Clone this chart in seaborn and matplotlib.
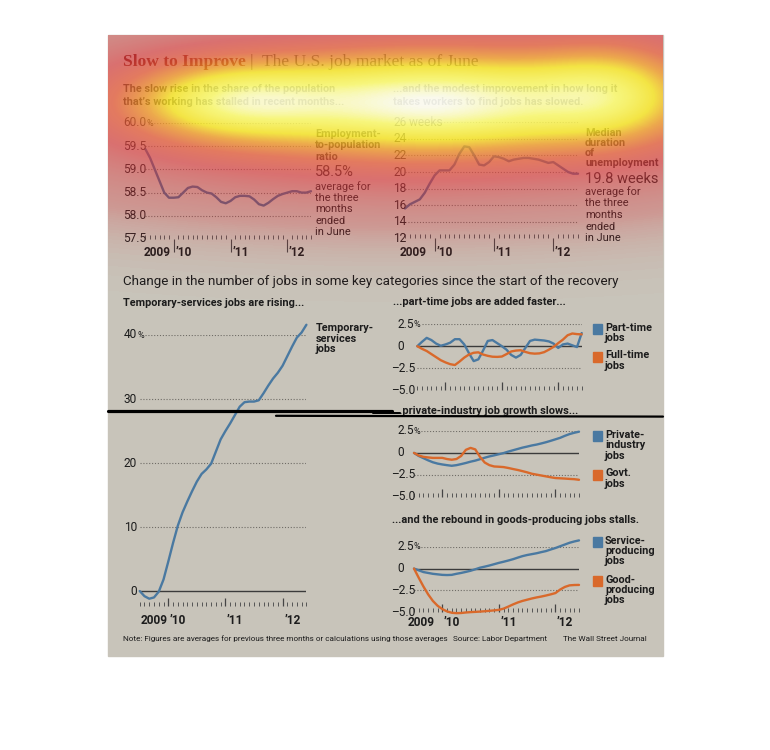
import numpy as np
import pandas as pd
import matplotlib
matplotlib.use('Agg')
import matplotlib.pyplot as plt
import matplotlib.transforms as mtransforms
from matplotlib.colors import LinearSegmentedColormap
from matplotlib.lines import Line2D
from matplotlib.patches import Rectangle
from matplotlib import font_manager
import seaborn as sns

# monthly values, three-month averages, July 2009 - June 2012
emp_pop_ratio = [59.44, 59.25, 59.0, 58.75, 58.5, 58.39, 58.39, 58.40, 58.5, 58.6,
                 58.63, 58.62, 58.55, 58.5, 58.48, 58.4, 58.3, 58.27, 58.32, 58.4,
                 58.43, 58.43, 58.42, 58.35, 58.25, 58.22, 58.28, 58.36, 58.43, 58.47,
                 58.5, 58.53, 58.53, 58.5, 58.5, 58.53]
median_weeks = [15.6, 16.1, 16.4, 16.7, 17.5, 18.6, 19.6, 20.2, 20.2, 20.2,
                20.9, 22.2, 23.1, 23.0, 22.0, 20.9, 20.8, 21.2, 21.9, 21.8,
                21.6, 21.3, 21.5, 21.6, 21.7, 21.7, 21.6, 21.5, 21.3, 21.1,
                21.2, 20.8, 20.4, 20.0, 19.8, 19.8]
temp_services = [0.0, -0.8, -1.2, -1.0, -0.1, 1.8, 4.6, 7.5, 10.2, 12.3,
                 14.0, 15.6, 17.1, 18.3, 19.0, 19.9, 21.8, 23.7, 25.0, 26.2,
                 27.5, 28.8, 29.5, 29.6, 29.6, 29.8, 30.9, 32.1, 33.2, 34.1,
                 35.2, 36.7, 38.2, 39.6, 40.4, 41.6]
part_time = [0.0, 0.5, 0.95, 0.7, 0.3, 0.05, 0.2, 0.4, 0.8, 0.8,
             0.2, -0.8, -1.7, -1.5, -0.5, 0.6, 0.7, 0.35, 0.0, -0.4,
             -1.0, -1.3, -1.0, -0.2, 0.6, 0.75, 0.7, 0.65, 0.55, 0.3,
             -0.2, 0.2, 0.3, 0.1, -0.1, 1.5]
full_time = [0.0, -0.3, -0.55, -0.9, -1.25, -1.6, -1.85, -2.05, -2.15, -1.75,
             -1.3, -0.95, -0.75, -0.7, -0.95, -1.1, -1.2, -1.22, -1.18, -0.9,
             -0.6, -0.5, -0.46, -0.65, -0.8, -0.85, -0.82, -0.68, -0.4, -0.08,
             0.35, 0.75, 1.25, 1.45, 1.38, 1.35]
private_jobs = [0.0, -0.35, -0.6, -0.85, -1.07, -1.22, -1.32, -1.4, -1.47, -1.4,
                -1.28, -1.15, -1.0, -0.88, -0.72, -0.55, -0.4, -0.28, -0.15, -0.02,
                0.15, 0.3, 0.45, 0.6, 0.72, 0.85, 0.95, 1.08, 1.22, 1.38,
                1.55, 1.72, 1.95, 2.15, 2.3, 2.42]
govt_jobs = [0.0, -0.3, -0.45, -0.52, -0.57, -0.57, -0.57, -0.7, -0.78, -0.7,
             -0.35, 0.35, 0.57, 0.4, -0.45, -1.1, -1.4, -1.55, -1.58, -1.62,
             -1.72, -1.84, -1.95, -2.08, -2.22, -2.38, -2.48, -2.58, -2.68, -2.78,
             -2.87, -2.9, -2.93, -2.97, -3.0, -3.07]
service_jobs = [0.0, -0.2, -0.4, -0.5, -0.6, -0.66, -0.72, -0.74, -0.72, -0.6,
                -0.5, -0.38, -0.25, -0.08, 0.1, 0.22, 0.35, 0.5, 0.65, 0.78,
                0.92, 1.07, 1.25, 1.42, 1.55, 1.65, 1.75, 1.88, 2.0, 2.18,
                2.35, 2.55, 2.75, 2.95, 3.1, 3.22]
goods_jobs = [0.0, -1.05, -2.05, -2.95, -3.7, -4.25, -4.63, -4.9, -5.05, -5.1,
              -5.08, -5.02, -4.98, -4.95, -4.92, -4.88, -4.83, -4.78, -4.72, -4.58,
              -4.35, -4.1, -3.88, -3.7, -3.56, -3.42, -3.3, -3.2, -3.08, -2.95,
              -2.8, -2.4, -2.1, -1.92, -1.88, -1.87]

year_labels = ['2009', '\u201910', '\u201911', '\u201912']
year_starts = [6, 18, 30]  # January 2010, 2011, 2012

emp_ticks = [57.5, 58.0, 58.5, 59.0, 59.5, 60.0]
weeks_ticks = [12, 14, 16, 18, 20, 22, 24, 26]
temp_ticks = [0, 10, 20, 30, 40]
small_ticks = [-5.0, -2.5, 0, 2.5]
small_tick_labels = ['\u20135.0', '\u20132.5', '0', '2.5']

BLUE = '#4a79a1'
BLUE_TOP = '#46658a'
ORANGE = '#d9692b'
PANEL = '#c8c4ba'
INK = '#1c1c1c'

sns.set_theme(style='white')
installed = {f.name for f in font_manager.fontManager.ttflist}
SANS = 'Liberation Sans Narrow' if 'Liberation Sans Narrow' in installed else 'Roboto'
plt.rcParams['font.family'] = [SANS, 'DejaVu Sans']

W, H = 770, 750
fig = plt.figure(figsize=(W / 100, H / 100), dpi=100)
fig.patch.set_facecolor('white')
fig.add_artist(Rectangle((108 / W, 1 - 656 / H), 555 / W, 621 / H,
                         transform=fig.transFigure, color=PANEL, zorder=0))


def px_axes(x0, x1, y0, y1):
    return fig.add_axes([x0 / W, 1 - y1 / H, (x1 - x0) / W, (y1 - y0) / H])


def ftext(x, y, s, **kw):
    kw.setdefault('color', INK)
    return fig.text(x / W, 1 - y / H, s, va='center', ha=kw.pop('ha', 'left'), **kw)


def stack(x, y0, dy, lines, **kw):
    for k, line in enumerate(lines):
        ftext(x, y0 + k * dy, line, **kw)


def draw_series(ax, series, colors, lw=1.7):
    df = pd.DataFrame(series)
    df['month'] = np.arange(len(df))
    long = df.melt('month', var_name='series', value_name='value')
    sns.lineplot(data=long, x='month', y='value', hue='series', palette=colors,
                 ax=ax, legend=False, linewidth=lw, clip_on=False, zorder=3)
    ax.set_xlabel('')
    ax.set_ylabel('')


def style_axes(ax, ylim, top):
    n = len(emp_pop_ratio)
    ax.set_xlim(0, n - 1)
    ax.set_ylim(*ylim)
    ax.set_facecolor('none')
    for s in ax.spines.values():
        s.set_visible(False)
    ax.set_yticks([])
    ax.set_xticks(year_starts)
    ax.set_xticks(range(n), minor=True)
    ax.set_xticklabels([])
    ax.tick_params(axis='x', which='minor', direction='in', length=3.2,
                   width=0.7, color='#555555', bottom=True)
    if top:
        ax.tick_params(axis='x', which='major', direction='out', length=9,
                       width=0.8, color='#444444', bottom=True)
    else:
        ax.tick_params(axis='x', which='major', direction='in', length=6,
                       width=0.9, color='#444444', bottom=True)


def grid(ax, values, zero=None, start=0):
    for v in values:
        ax.plot([start, len(emp_pop_ratio) - 1], [v, v], color='#6f6c66',
                lw=0.8, ls=(0, (1, 1.6)), zorder=1)
    if zero is not None:
        ax.axhline(zero, color='#3b3b3b', lw=1.0, zorder=2)


def y_labels(ax, values, texts, x_px, ha, suffix='', suffix_size=8.5, neg_x=None):
    tr = mtransforms.blended_transform_factory(fig.transFigure, ax.transData)
    r = fig.canvas.get_renderer()
    last = None
    for v, t in zip(values, texts):
        x = x_px
        if neg_x is not None and t.startswith('\u2013'):
            x = neg_x
        last = ax.text(x / W, v, t, transform=tr, ha=ha, va='center',
                       fontsize=8.6, color=INK)
    if suffix:
        bb = last.get_window_extent(r)
        ax.text(bb.x1 / W, values[-1], suffix, transform=tr, ha='left',
                va='center', fontsize=suffix_size, color=INK)


def put_years(ax, y_px, first_x, first_ha):
    tr = mtransforms.blended_transform_factory(ax.transData, fig.transFigure)
    kw = dict(transform=tr, va='center', fontsize=8.6, weight='bold', color=INK)
    ax.text(first_x, 1 - y_px / H, year_labels[0], ha=first_ha, **kw)
    for xi, lab in zip(year_starts, year_labels[1:]):
        ax.text(xi + 0.35, 1 - y_px / H, lab, ha='left', **kw)


# ---------------- titles ----------------
t1 = ftext(123, 62, 'Slow to Improve', family='Liberation Serif', weight='bold',
           fontsize=12.6, color='#6e1a12')
bb = t1.get_window_extent(fig.canvas.get_renderer())
ftext(bb.x1 + 4, 62, '|  The U.S. job market as of June', family='Liberation Serif',
      fontsize=12.6, color='#3a3a3a')
stack(123, 88.5, 13.3, ['The slow rise in the share of the population',
                        'that\u2019s working has stalled in recent months...'],
      weight='bold', fontsize=7.8)
stack(393, 88.5, 13.3, ['...and the modest improvement in how long it',
                        'takes workers to find jobs has slowed.'],
      weight='bold', fontsize=7.9)

# ---------------- top-left: employment-to-population ----------------
ax1 = px_axes(145.3, 311, 123, 239)
style_axes(ax1, (57.5, 60.0), top=True)
grid(ax1, emp_ticks[1:-1])
grid(ax1, emp_ticks[-1:], start=0.6)
draw_series(ax1, {'ratio': emp_pop_ratio}, {'ratio': BLUE_TOP})
y_labels(ax1, emp_ticks, ['%.1f' % v for v in emp_ticks], 123, 'left', suffix='%',
         suffix_size=6.5)
put_years(ax1, 252, 5.3, 'right')
stack(315, 134, 11.3, ['Employment-', 'to-population', 'ratio'], weight='bold', fontsize=7.8)
ftext(315, 172, '58.5%', fontsize=10.5)
stack(315, 187, 11.2, ['average for', 'the three', 'months', 'ended', 'in June'], fontsize=7.9)

# ---------------- top-right: median duration ----------------
ax2 = px_axes(405, 578, 122.3, 238.3)
style_axes(ax2, (12, 26), top=True)
grid(ax2, weeks_ticks[1:-1])
grid(ax2, weeks_ticks[-1:], start=6)
draw_series(ax2, {'weeks': median_weeks}, {'weeks': BLUE_TOP})
y_labels(ax2, weeks_ticks, [str(v) for v in weeks_ticks], 393, 'left', suffix=' weeks',
         suffix_size=8.6)
put_years(ax2, 252, 1.6, 'center')
stack(585, 133.5, 10.0, ['Median', 'duration', 'of', 'unemployment'], weight='bold',
      fontsize=7.8)
ftext(585, 179, '19.8 weeks', fontsize=10.5)
stack(585, 192, 11.5, ['average for', 'the three', 'months', 'ended', 'in June'], fontsize=7.9)

# ---------------- section header ----------------
ftext(123, 282, 'Change in the number of jobs in some key categories since the start of the recovery',
      fontsize=9.6)
ftext(123, 302.5, 'Temporary-services jobs are rising...', weight='bold', fontsize=7.8)
ftext(393, 302, '...part-time jobs are added faster...', weight='bold', fontsize=7.9)
ftext(393, 411.5, '...private-industry job growth slows...', weight='bold', fontsize=7.9)
ftext(392, 520, '...and the rebound in goods-producing jobs stalls.', weight='bold', fontsize=7.9)

# ---------------- temporary services ----------------
ax3 = px_axes(139.7, 306.4, 335, 606.4)
style_axes(ax3, (-2.4, 40), top=False)
grid(ax3, temp_ticks[1:-1], zero=0)
grid(ax3, temp_ticks[-1:], start=1.1)
draw_series(ax3, {'temp': temp_services}, {'temp': BLUE})
y_labels(ax3, temp_ticks, [str(v) for v in temp_ticks], 137, 'right', suffix='%',
         suffix_size=6.5)
put_years(ax3, 621, 5.8, 'right')
stack(316, 328.5, 10.0, ['Temporary-', 'services', 'jobs'], weight='bold', fontsize=7.8)


# ---------------- small multiples ----------------
def small_chart(x0, x1, y0, y1, series, colors, legend_rows):
    ax = px_axes(x0, x1, y0, y1)
    style_axes(ax, (-5.0, 2.5), top=False)
    grid(ax, [-2.5], zero=0)
    grid(ax, [2.5], start=0.9)
    draw_series(ax, series, colors)
    y_labels(ax, small_ticks, small_tick_labels, 397, 'left', suffix='%',
             suffix_size=6.5, neg_x=391.5)
    for name, sq_top, lines, dy in legend_rows:
        fig.add_artist(Rectangle((592.5 / W, 1 - (sq_top + 10) / H), 9.5 / W, 10 / H,
                                 transform=fig.transFigure, color=colors[name], zorder=2))
        stack(605, sq_top + 4, dy, lines, weight='bold', fontsize=7.8)
    return ax


small_chart(417.3, 581.7, 324.3, 390,
            {'part': part_time, 'full': full_time}, {'part': BLUE, 'full': ORANGE},
            [('part', 324, ['Part-time', 'jobs'], 10.2),
             ('full', 351.5, ['Full-time', 'jobs'], 10.3)])
small_chart(414, 579, 431, 496.7,
            {'private': private_jobs, 'govt': govt_jobs}, {'private': BLUE, 'govt': ORANGE},
            [('private', 430.5, ['Private-', 'industry', 'jobs'], 10.6),
             ('govt', 469.5, ['Govt.', 'jobs'], 10.3)])
ax6 = small_chart(414, 579, 546.7, 612.3,
                  {'service': service_jobs, 'goods': goods_jobs},
                  {'service': BLUE, 'goods': ORANGE},
                  [('service', 536.5, ['Service-', 'producing', 'jobs'], 10.3),
                   ('goods', 576, ['Good-', 'producing', 'jobs'], 10.0)])
put_years(ax6, 622, 1.5, 'center')

# ---------------- footer ----------------
ftext(123, 639, 'Note: Figures are averages for previous three months or calculations using those averages',
      fontsize=5.9)
ftext(453, 639, 'Source: Labor Department', fontsize=5.9)
ftext(563, 639, 'The Wall Street Journal', fontsize=5.9)

# ---------------- attention heat overlay ----------------
ov = fig.add_axes([0, 0, 1, 1], zorder=10)
ov.set_xlim(0, W)
ov.set_ylim(H, 0)
ov.axis('off')
ov.patch.set_alpha(0)
gx, gy = np.meshgrid(np.arange(108, 663) + 0.5, np.arange(35, 330) + 0.5)


def blob(cx, cy, sx, sy, amp):
    return amp * np.exp(-((gx - cx) ** 2 / (2 * sx ** 2) + (gy - cy) ** 2 / (2 * sy ** 2)))


heat = (blob(440, 100, 125, 38, 0.52) + blob(220, 100, 75, 30, 0.42)
        + blob(400, 110, 280, 62, 0.47) + blob(620, 90, 60, 40, 0.35))
heat = np.clip(heat, 0, 1)
heat_cmap = LinearSegmentedColormap.from_list('heat', [
    (0.0, (0.85, 0.2, 0.2, 0.0)),
    (0.08, (0.86, 0.2, 0.22, 0.3)),
    (0.3, (0.9, 0.24, 0.26, 0.62)),
    (0.45, (0.94, 0.36, 0.22, 0.7)),
    (0.6, (0.98, 0.62, 0.15, 0.74)),
    (0.72, (1.0, 0.93, 0.15, 0.8)),
    (0.88, (1.0, 1.0, 0.45, 0.86)),
    (1.0, (1.0, 1.0, 1.0, 0.92)),
])
ov.imshow(heat_cmap(heat), extent=[108, 663, 330, 35], interpolation='bilinear',
          aspect='auto')

# ---------------- stray pen strokes ----------------
for (xa, xb, ya, yb, lw) in [(108, 392, 410.5, 410.5, 2.3), (373, 400, 413, 413, 1.4),
                             (276, 663, 415.8, 416.6, 1.6)]:
    fig.add_artist(Line2D([xa / W, xb / W], [1 - ya / H, 1 - yb / H],
                          transform=fig.transFigure, color='black', lw=lw, zorder=11))

fig.savefig('out.png', dpi=100)
